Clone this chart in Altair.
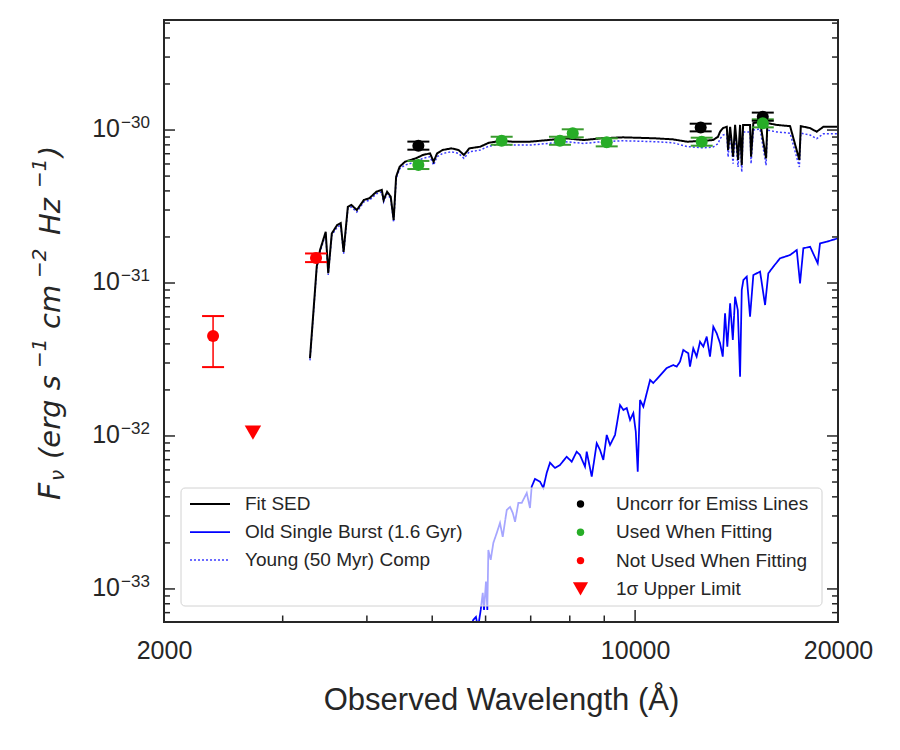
import altair as alt
import pandas as pd

# ---------------- data ----------------
line_names = ["Fit SED", "Old Single Burst (1.6 Gyr)", "Young (50 Myr) Comp"]

fit_lam = [3293, 3331, 3370, 3408, 3475, 3505, 3548, 3613, 3658, 3694, 3748, 3793, 3865, 3959, 4033,
           4132, 4209, 4235, 4286, 4339, 4383, 4420, 4473, 4557, 4726, 4844, 4963, 5024, 5084, 5179,
           5339, 5472, 5572, 5676, 5889, 6068, 6333, 6570, 6983, 7423, 7889, 8389, 8913, 9593, 10704,
           11377, 11947, 12600, 13051, 13275, 13367, 13504, 13678, 13740, 13835, 13975, 14072, 14215, 14313,
           14396, 14462, 14809, 14861, 14977, 15326, 15643, 15712, 16227, 16980, 17528, 17613, 18182, 18597,
           19021, 20000]
fit_flux = [3.22e-32, 6.34e-32, 1.28e-31, 1.64e-31, 2.16e-31, 1.16e-31, 2.11e-31, 2.39e-31, 2.46e-31,
            1.60e-31, 3.15e-31, 3.24e-31, 3.00e-31, 3.49e-31, 3.58e-31, 3.95e-31, 4.06e-31, 3.49e-31,
            3.95e-31, 3.67e-31, 2.58e-31, 4.95e-31, 5.75e-31, 6.21e-31, 6.53e-31, 6.87e-31, 7.04e-31,
            6.21e-31, 7.04e-31, 7.40e-31, 7.59e-31, 7.40e-31, 6.87e-31, 7.59e-31, 7.78e-31, 8.26e-31,
            8.51e-31, 8.39e-31, 8.39e-31, 8.60e-31, 8.83e-31, 8.60e-31, 8.83e-31, 8.96e-31, 8.83e-31,
            8.69e-31, 8.39e-31, 8.50e-31, 8.60e-31, 9.04e-31, 9.75e-31, 1.03e-30, 1.05e-30, 7.40e-31,
            1.05e-30, 6.69e-31, 1.08e-30, 6.37e-31, 1.08e-30, 5.90e-31, 1.08e-30, 1.08e-30, 6.69e-31,
            1.11e-30, 1.13e-30, 6.53e-31, 1.11e-30, 1.08e-30, 1.06e-30, 6.37e-31, 1.06e-30, 1.03e-30,
            9.75e-31, 1.05e-30, 1.05e-30]
young_flux = [3.12e-32, 6.15e-32, 1.24e-31, 1.59e-31, 2.10e-31, 1.13e-31, 2.05e-31, 2.32e-31, 2.39e-31,
              1.55e-31, 3.06e-31, 3.14e-31, 2.91e-31, 3.39e-31, 3.47e-31, 3.83e-31, 3.94e-31, 3.39e-31,
              3.83e-31, 3.56e-31, 2.50e-31, 4.80e-31, 5.58e-31, 5.90e-31, 6.20e-31, 6.53e-31, 6.69e-31,
              5.90e-31, 6.69e-31, 7.03e-31, 7.21e-31, 7.03e-31, 6.53e-31, 7.21e-31, 7.39e-31, 7.85e-31,
              8.08e-31, 7.97e-31, 7.97e-31, 8.17e-31, 8.39e-31, 8.17e-31, 8.39e-31, 8.51e-31, 8.39e-31,
              8.26e-31, 7.80e-31, 7.65e-31, 7.74e-31, 8.14e-31, 8.78e-31, 9.27e-31, 9.45e-31, 6.66e-31,
              9.45e-31, 6.02e-31, 9.72e-31, 5.73e-31, 9.72e-31, 5.31e-31, 9.72e-31, 9.72e-31, 6.02e-31,
              9.99e-31, 1.017e-30, 5.88e-31, 9.99e-31, 9.72e-31, 9.54e-31, 5.73e-31, 9.54e-31, 9.27e-31,
              8.78e-31, 9.45e-31, 9.45e-31]

old_lam = [5650, 5752, 5806, 5847, 5901, 5942, 5968, 6008, 6036, 6057, 6106, 6161, 6233, 6303, 6362,
           6450, 6523, 6584, 6636, 6711, 6789, 6906, 6983, 7023, 7103, 7226, 7309, 7393, 7477, 7606,
           7736, 7916, 8053, 8191, 8284, 8427, 8476, 8623, 8771, 8871, 8971, 9076, 9179, 9337, 9499,
           9607, 9718, 9829, 9940, 10023, 10090, 10170, 10285, 10407, 10525, 10642, 11139, 11393, 11527,
           11658, 11790, 11993, 12062, 12199, 12340, 12483, 12625, 12771, 12916, 13063, 13214, 13367,
           13491, 13597, 13703, 13835, 13963, 14072, 14202, 14313, 14396, 14476, 14644, 14809, 14977,
           15326, 15589, 15764, 16034, 16405, 16980, 17372, 17567, 17767, 18182, 18661, 18809, 19241,
           20000]
old_flux = [5.0e-34, 6.27e-34, 6.56e-34, 5.56e-34, 7.29e-34, 9.42e-34, 7.29e-34, 1.116e-33, 7.29e-34,
            1.798e-33, 1.548e-33, 2.0e-33, 2.32e-33, 2.70e-33, 2.19e-33, 3.28e-33, 3.44e-33, 3.14e-33,
            2.75e-33, 3.65e-33, 3.65e-33, 4.24e-33, 3.38e-33, 4.66e-33, 5.24e-33, 5.03e-33, 4.57e-33,
            5.73e-33, 6.69e-33, 6.18e-33, 6.46e-33, 7.32e-33, 6.79e-33, 7.90e-33, 7.51e-33, 6.30e-33,
            7.90e-33, 5.42e-33, 8.96e-33, 8.10e-33, 6.97e-33, 1.015e-32, 8.73e-33, 1.015e-32, 1.594e-32,
            1.479e-32, 1.524e-32, 1.272e-32, 1.413e-32, 1.067e-32, 5.84e-33, 1.719e-32, 1.554e-32,
            1.910e-32, 2.323e-32, 2.22e-32, 2.78e-32, 2.91e-32, 2.84e-32, 3.06e-32, 3.65e-32, 3.47e-32,
            2.84e-32, 3.74e-32, 3.30e-32, 4.13e-32, 3.84e-32, 4.46e-32, 3.30e-32, 5.18e-32, 4.69e-32,
            4.04e-32, 3.30e-32, 6.34e-32, 3.84e-32, 7.37e-32, 4.24e-32, 8.13e-32, 6.66e-32, 2.44e-32,
            9.0e-32, 1.046e-31, 1.10e-31, 6.02e-32, 1.128e-31, 1.186e-31, 7.18e-32, 1.157e-31, 1.278e-31,
            1.45e-31, 1.524e-31, 1.643e-31, 9.95e-32, 1.686e-31, 1.727e-31, 1.345e-31, 1.817e-31,
            1.862e-31, 1.96e-31]

pt_names = ["Uncorr for Emiss Lines", "Used When Fitting", "Not Used When Fitting", "1σ Upper Limit"]
pt_cat = ["Uncorr for Emiss Lines"] * 3 + ["Used When Fitting"] * 7 + ["Not Used When Fitting"] * 2
pt_lam = [4769, 12511, 15468, 4769, 6339, 7736, 8081, 9076, 12555, 15468, 3362, 2365]
pt_flux = [7.90e-31, 1.04e-30, 1.22e-30, 5.91e-31, 8.51e-31, 8.51e-31, 9.52e-31, 8.31e-31, 8.39e-31,
           1.106e-30, 1.457e-31, 4.51e-32]
pt_hi = [8.40e-31, 1.10e-30, 1.30e-30, 6.28e-31, 9.04e-31, 9.04e-31, 1.011e-30, 8.83e-31, 8.91e-31,
         1.175e-30, 1.56e-31, 6.08e-32]
pt_lo = [7.44e-31, 9.80e-31, 1.15e-30, 5.56e-31, 8.01e-31, 8.01e-31, 8.96e-31, 7.82e-31, 7.90e-31,
         1.041e-30, 1.37e-31, 2.82e-32]
ul_lam = [2710]
ul_flux = [1.05e-32]

x_minor_ticks = [3000, 4000, 5000, 6000, 7000, 8000, 9000]
x_major_ticks = [10000]
x_label_values = [2000, 10000, 20000]
y_major_ticks = [1e-33, 1e-32, 1e-31, 1e-30]
y_minor_ticks = [7e-34, 8e-34, 9e-34,
                 2e-33, 3e-33, 4e-33, 5e-33, 6e-33, 7e-33, 8e-33, 9e-33,
                 2e-32, 3e-32, 4e-32, 5e-32, 6e-32, 7e-32, 8e-32, 9e-32,
                 2e-31, 3e-31, 4e-31, 5e-31, 6e-31, 7e-31, 8e-31, 9e-31,
                 2e-30, 3e-30, 4e-30, 5e-30]
y_label_exps = ["\u221233", "\u221232", "\u221231", "\u221230"]

# ---------------- styling ----------------
FONT = "Liberation Sans"
TXT = "#262626"
W, H = 674, 602
marker_col = {"Uncorr for Emiss Lines": "#000000", "Used When Fitting": "#27ad27",
              "Not Used When Fitting": "#ff0000", "1σ Upper Limit": "#ff0000"}
cap_col = {"Uncorr for Emiss Lines": "#000000", "Used When Fitting": "#3a9a2e",
           "Not Used When Fitting": "#ff0000"}

X_DOM = [2000, 20000]
Y_DOM = [6.08e-34, 5.24e-30]
xs = alt.Scale(type="log", domain=X_DOM, nice=False)
ys = alt.Scale(type="log", domain=Y_DOM, nice=False)

# ---------------- tables ----------------
line_df = pd.concat([
    pd.DataFrame({"series": "Young (50 Myr) Comp", "lam": fit_lam, "flux": young_flux}),
    pd.DataFrame({"series": "Old Single Burst (1.6 Gyr)", "lam": old_lam, "flux": old_flux}),
    pd.DataFrame({"series": "Fit SED", "lam": fit_lam, "flux": fit_flux}),
], ignore_index=True)

pts_df = pd.DataFrame({"cat": pt_cat, "lam": pt_lam, "flux": pt_flux, "hi": pt_hi, "lo": pt_lo})
pts_df["mcol"] = pts_df["cat"].map(marker_col)
pts_df["ccol"] = pts_df["cat"].map(cap_col)
ul_df = pd.DataFrame({"cat": ["1σ Upper Limit"] * len(ul_lam), "lam": ul_lam, "flux": ul_flux})
ylab_df = pd.DataFrame({"v": y_major_ticks, "base": ["10"] * 4, "exp": y_label_exps})
leg_df = pd.DataFrame({"cat": pt_names})

# ---------------- legends ----------------
line_legend = alt.Legend(title=None, orient="none", legendX=25, legendY=474, symbolType="stroke",
                         symbolSize=1600, labelFont=FONT, labelFontSize=19, labelColor=TXT,
                         labelOffset=14, labelLimit=500, clipHeight=20, rowPadding=8, padding=0)
pt_legend = alt.Legend(title=None, orient="none", legendX=407, legendY=474, labelFont=FONT,
                       labelFontSize=19, labelColor=TXT, labelOffset=26, labelLimit=500,
                       clipHeight=20, rowPadding=8.3, padding=0, symbolStrokeWidth=0,
                       symbolOpacity=1)

# ---------------- layers ----------------
lines = alt.Chart(line_df).mark_line(clip=True).encode(
    x=alt.X("lam:Q", scale=xs, axis=None),
    y=alt.Y("flux:Q", scale=ys, axis=None),
    color=alt.Color("series:N", scale=alt.Scale(domain=line_names,
                                                range=["#000000", "#0000ff", "#3b3bff"]),
                    legend=line_legend),
    strokeDash=alt.StrokeDash("series:N", scale=alt.Scale(domain=line_names,
                                                          range=[[1, 0], [1, 0], [2, 2]]),
                              legend=line_legend),
    strokeWidth=alt.StrokeWidth("series:N", scale=alt.Scale(domain=line_names, range=[2.0, 1.5, 1.6]),
                                legend=line_legend),
)

legend_box = alt.Chart(pd.DataFrame({"a": [0]})).mark_rect(
    fill="white", fillOpacity=0.65, stroke="#d2d2d2", strokeWidth=1, cornerRadius=4
).encode(x=alt.value(17), x2=alt.value(658), y=alt.value(468), y2=alt.value(586))

err_rule = alt.Chart(pts_df).mark_rule(strokeWidth=1.5, clip=True).encode(
    x=alt.X("lam:Q", scale=xs, axis=alt.Axis(
        orient="bottom", values=x_label_values, format="d", ticks=False, tickSize=0, domain=False,
        grid=False, labelFont=FONT, labelFontSize=25, labelColor=TXT, labelPadding=16,
        labelFlush=False, labelOverlap=False, title="Observed Wavelength (Å)", titleFont=FONT,
        titleFontSize=31, titleColor=TXT, titleFontWeight="normal", titleY=87,
        titleBaseline="alphabetic")),
    y=alt.Y("lo:Q", scale=ys, axis=None),
    y2="hi:Q",
    stroke=alt.Stroke("ccol:N", scale=None, legend=None),
)

caps = [
    alt.Chart(pts_df).mark_point(shape="stroke", size=484, strokeWidth=2, opacity=1, clip=True).encode(
        x=alt.X("lam:Q", scale=xs, axis=None), y=alt.Y(f"{fld}:Q", scale=ys, axis=None),
        stroke=alt.Stroke("ccol:N", scale=None, legend=None))
    for fld in ("hi", "lo")
]

circles = alt.Chart(pts_df).mark_point(filled=True, shape="circle", size=145, opacity=1, clip=True).encode(
    x=alt.X("lam:Q", scale=xs, axis=None), y=alt.Y("flux:Q", scale=ys, axis=None),
    fill=alt.Fill("mcol:N", scale=None, legend=None))

triangle = alt.Chart(ul_df).mark_point(filled=True, shape="triangle-down", size=270, opacity=1,
                                       fill="#ff0000", clip=True).encode(
    x=alt.X("lam:Q", scale=xs, axis=None), y=alt.Y("flux:Q", scale=ys, axis=None))

# legend carrier: its marks sit outside the clipped plot area, only the legend shows
legend_pts = alt.Chart(leg_df).mark_point(filled=True, clip=True).encode(
    x=alt.value(-500), y=alt.value(-500),
    fill=alt.Fill("cat:N", scale=alt.Scale(domain=pt_names, range=[marker_col[c] for c in pt_names]),
                  legend=pt_legend),
    shape=alt.Shape("cat:N", scale=alt.Scale(domain=pt_names,
                                             range=["circle", "circle", "circle", "triangle-down"]),
                    legend=pt_legend),
    size=alt.Size("cat:N", scale=alt.Scale(type="ordinal", domain=pt_names, range=[55, 55, 55, 230]),
                  legend=pt_legend),
)

# inward-pointing tick marks, placed through the scales
def yticks(vals, x0, x1):
    return alt.Chart(pd.DataFrame({"v": vals})).mark_rule(color=TXT, strokeWidth=1.5).encode(
        y=alt.Y("v:Q", scale=ys, axis=None), x=alt.value(x0), x2=alt.value(x1))

def xticks(vals, y0, y1):
    return alt.Chart(pd.DataFrame({"v": vals})).mark_rule(color=TXT, strokeWidth=1.5).encode(
        x=alt.X("v:Q", scale=xs, axis=None), y=alt.value(y0), y2=alt.value(y1))

tick_layers = [
    yticks(y_major_ticks, 0, 11), yticks(y_minor_ticks, 0, 6),
    yticks(y_major_ticks, W, W - 11), yticks(y_minor_ticks, W, W - 6),
    xticks(x_major_ticks, H, H - 12), xticks(x_minor_ticks, H, H - 6.5),
]

frame = alt.Chart(pd.DataFrame({"a": [0]})).mark_rect(
    fill="white", fillOpacity=0, stroke=TXT, strokeWidth=2
).encode(x=alt.value(0), x2=alt.value(W), y=alt.value(0), y2=alt.value(H))

ylab_base = alt.Chart(ylab_df).mark_text(align="right", baseline="middle", font=FONT, fontSize=25,
                                         color=TXT, dy=-1).encode(
    x=alt.value(-44), y=alt.Y("v:Q", scale=ys, axis=None), text="base:N")
ylab_exp = alt.Chart(ylab_df).mark_text(align="left", baseline="middle", font=FONT, fontSize=17,
                                        color=TXT, dy=-7).encode(
    x=alt.value(-43), y=alt.Y("v:Q", scale=ys, axis=None), text="exp:N")

# y-axis title, set piece by piece for sub/superscripts (text, x, y, size)
ytitle_parts = [("F", -104, 480, 30), ("\u03bd", -100, 461, 20), ("(erg s", -104, 439, 29),
                ("\u22121", -118, 348, 20), ("cm", -104, 309, 29), ("\u22122", -118, 258, 20),
                ("Hz", -104, 215, 29), ("\u22121", -118, 168, 20), (")", -104, 137, 29)]
ytitle_layers = [
    alt.Chart(pd.DataFrame({"t": [t]})).mark_text(
        angle=270, align="left", baseline="alphabetic", font="DejaVu Sans", fontStyle="italic",
        fontSize=s, color=TXT).encode(x=alt.value(px), y=alt.value(py), text="t:N")
    for (t, px, py, s) in ytitle_parts
]

chart = alt.layer(
    lines, legend_box, err_rule, *caps, circles, triangle, legend_pts, *tick_layers, frame,
    ylab_base, ylab_exp, *ytitle_layers
).resolve_axis(
    x="independent", y="independent"
).resolve_scale(
    fill="independent", shape="independent", stroke="independent", size="independent"
).properties(
    width=W, height=H, autosize="none",
    padding={"left": 164, "top": 20, "right": 62, "bottom": 128},
).configure(background="white").configure_view(stroke=TXT, strokeWidth=2)

chart.save("out.html", embed_options={"renderer": "svg", "actions": False})
